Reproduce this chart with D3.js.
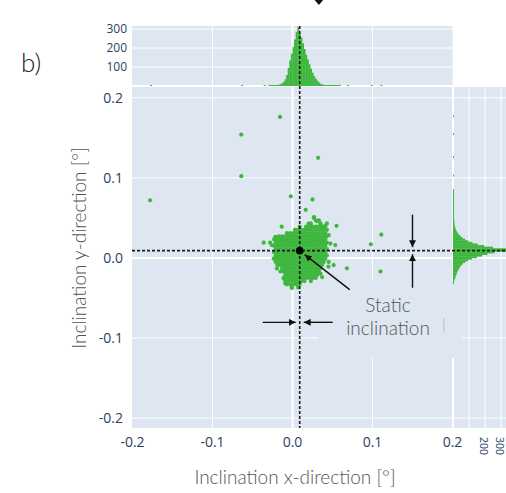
<!DOCTYPE html>
<html>
<head>
<meta charset="utf-8">
<script src="https://cdn.jsdelivr.net/npm/d3@7"></script>
<style>
  body { margin: 0; background: #fff; }
  svg { display: block; }
</style>
</head>
<body>
<div id="chart"></div>
<script>
// values
const xTicks = [-0.2, -0.1, 0, 0.1, 0.2];
const yTicks = [-0.2, -0.1, 0, 0.1, 0.2];
const tickLabels = ['-0.2', '-0.1', '0.0', '0.1', '0.2'];
const countTicks = [100, 200, 300];
const rightCountLabels = [200, 300];

const staticInclination = [0.009, 0.009];

// marginal histograms, bin width 0.002
const binWidth = 0.002;
const xBinStart = -0.03;
const xCounts = [
  1, 2, 2, 3, 4, 5, 7, 10, 14, 22, 35, 58, 95, 135, 170,
  205, 245, 285, 310, 275, 255, 225, 195, 165, 140, 115, 92, 70, 52, 38,
  28, 18, 12, 8, 6, 4, 3, 3, 2, 2, 1, 1, 1, 2, 1,
];
const yBinStart = -0.032;
const yCounts = [
  2, 5, 10, 14, 17, 20, 24, 28, 33, 38, 44, 52, 62, 76, 94, 118,
  150, 182, 215, 260, 340, 345, 250, 195, 155, 122, 96, 76, 60, 48,
  38, 30, 24, 19, 15, 12, 10, 9, 8, 7, 6, 5, 5, 4, 4, 4, 3, 3, 3, 3,
  2, 2, 2, 2, 2, 2, 1, 1, 1,
];
const xStrayBins = [[-0.178, 1], [-0.064, 2], [-0.036, 1], [-0.028, 1], [0.068, 1], [0.098, 1], [0.11, 2]];
const yStrayBins = [[0.176, 1], [0.154, 1], [0.125, 1], [0.102, 1], [0.077, 1], [0.073, 2], [0.06, 1]];

// dense cluster, read as an occupancy map (step 0.004, from x=-0.035 / y=0.055)
const clusterOrigin = [-0.035, 0.055];
const clusterStep = 0.004;
const clusterRows = [
  '..........................',
  '...............#..........',
  '................##........',
  '..............#..#.#......',
  '...........#.#######......',
  '.........###########......',
  '.......#############......',
  '....################......',
  '...#################......',
  '...#################......',
  '...#################......',
  '...#################......',
  '...#################......',
  '...#################......',
  '...#################......',
  '...################.......',
  '....###############.......',
  '.....#############........',
  '.....#############........',
  '......###########.........',
  '......###########.........',
  '......#######.#...........',
  '.......#####..............',
  '........#.#...............',
];

const strayPoints = [
  [-0.0156, 0.176], [-0.064, 0.154], [-0.064, 0.102], [-0.178, 0.072],
  [0.032, 0.125], [-0.002, 0.077], [0.025, 0.073], [0.0165, 0.06],
  [-0.0135, 0.039], [0.055, 0.04], [0.111, 0.029], [0.098, 0.017],
  [-0.036, 0.019], [-0.028, 0.019], [0.068, -0.013], [0.11, -0.017],
  [0.0265, 0.05], [0.0535, 0.016], [0.0515, -0.009], [0.045, -0.011],
  [0.037, -0.024], [-0.0006, -0.0375], [-0.009, -0.032],
  [0.0202, 0.0429], [0.0306, 0.0459], [0.0348, 0.0409], [0.041, 0.04],
  [0.0452, 0.0284], [0.0473, 0.0179], [0.0452, -0.005], [-0.0215, 0.0262],
  [-0.0256, 0.0159], [-0.0235, -0.0008], [-0.0194, -0.0133], [-0.011, -0.0258],
  [0.0035, -0.032], [0.0285, -0.0238], [0.0348, -0.0196],
];

// layout
const width = 506;
const height = 493;
const bg = '#dde6f1';
const green = '#3fb73f';
const tickColor = '#2a3f5f';
const titleColor = '#555';
const titleFont = "Lato, 'Open Sans', sans-serif";
const tickFont = "'Open Sans', sans-serif";

const main = { left: 132, right: 452.5, top: 87, bottom: 428 };
const topArea = { top: 26, bottom: 86 };
const side = { left: 453, right: 506 };

const x = d3.scaleLinear().domain([-0.2, 0.2]).range([132.5, 452.5]);
const y = d3.scaleLinear().domain([-0.2, 0.2]).range([418, 97.75]);
const yTop = d3.scaleLinear().domain([0, 300]).range([86, 29]);
const xSide = d3.scaleLinear().domain([0, 300]).range([453, 501]);

const svg = d3
  .select('#chart')
  .append('svg')
  .attr('width', width)
  .attr('height', height);

// backgrounds
svg.append('rect')
  .attr('x', main.left).attr('y', topArea.top)
  .attr('width', main.right - main.left).attr('height', topArea.bottom - topArea.top)
  .attr('fill', bg);
svg.append('rect')
  .attr('x', main.left).attr('y', main.top)
  .attr('width', main.right - main.left).attr('height', main.bottom - main.top)
  .attr('fill', bg);
svg.append('rect')
  .attr('x', side.left).attr('y', main.top)
  .attr('width', side.right - side.left).attr('height', main.bottom - main.top)
  .attr('fill', bg);

const grid = svg.append('g').attr('stroke', '#fff');

// main grid
grid.append('g').selectAll('line')
  .data(xTicks.slice(1, 4))
  .join('line')
  .attr('x1', (d) => x(d)).attr('x2', (d) => x(d))
  .attr('y1', main.top).attr('y2', main.bottom)
  .attr('stroke-width', (d) => (d === 0 ? 2 : 1));
grid.append('g').selectAll('line')
  .data(yTicks)
  .join('line')
  .attr('x1', main.left).attr('x2', side.right)
  .attr('y1', (d) => y(d)).attr('y2', (d) => y(d))
  .attr('stroke-width', (d) => (d === 0 ? 2 : 1));

// top histogram grid
grid.append('g').selectAll('line')
  .data(xTicks.slice(1, 4))
  .join('line')
  .attr('x1', (d) => x(d)).attr('x2', (d) => x(d))
  .attr('y1', topArea.top).attr('y2', topArea.bottom)
  .attr('stroke-width', (d) => (d === 0 ? 2 : 1));
grid.append('g').selectAll('line')
  .data(countTicks)
  .join('line')
  .attr('x1', main.left).attr('x2', main.right)
  .attr('y1', (d) => yTop(d)).attr('y2', (d) => yTop(d));
grid.append('line')
  .attr('x1', main.left).attr('x2', main.right)
  .attr('y1', yTop(0)).attr('y2', yTop(0))
  .attr('stroke-width', 2);

// side histogram grid
grid.append('g').selectAll('line')
  .data(countTicks)
  .join('line')
  .attr('x1', (d) => xSide(d)).attr('x2', (d) => xSide(d))
  .attr('y1', main.top).attr('y2', main.bottom);
grid.append('line')
  .attr('x1', xSide(0)).attr('x2', xSide(0))
  .attr('y1', main.top).attr('y2', main.bottom)
  .attr('stroke-width', 2);

// patch behind the annotation text
svg.append('rect')
  .attr('x', 318).attr('y', 281)
  .attr('width', 144).attr('height', 77)
  .attr('fill', bg);
svg.append('rect')
  .attr('x', 443).attr('y', 318)
  .attr('width', 1.5).attr('height', 14)
  .attr('fill', '#c8ccd2');

// top histogram
const xBins = xCounts.map((c, i) => [xBinStart + i * binWidth, c]).concat(xStrayBins);
svg.append('g')
  .selectAll('rect')
  .data(xBins)
  .join('rect')
  .attr('x', (d) => x(d[0]))
  .attr('width', x(binWidth) - x(0) + 0.3)
  .attr('y', (d) => Math.min(yTop(d[1]), yTop(0) - 1))
  .attr('height', (d) => Math.max(yTop(0) - yTop(d[1]), 1))
  .attr('fill', green);

// side histogram
const yBins = yCounts.map((c, i) => [yBinStart + i * binWidth, c]).concat(yStrayBins);
svg.append('g')
  .selectAll('rect')
  .data(yBins)
  .join('rect')
  .attr('x', xSide(0))
  .attr('y', (d) => y(d[0] + binWidth))
  .attr('height', y(0) - y(binWidth) + 0.3)
  .attr('width', (d) => Math.min(Math.max(xSide(d[1]) - xSide(0), 1), side.right - side.left))
  .attr('fill', green);

// scatter (odd rows of the map sit half a step over)
const clusterPoints = [];
clusterRows.forEach((row, j) => {
  [...row].forEach((c, i) => {
    if (c === '#') {
      clusterPoints.push([
        clusterOrigin[0] + (i + (j % 2) * 0.5) * clusterStep,
        clusterOrigin[1] - j * clusterStep,
      ]);
    }
  });
});

svg.append('g')
  .selectAll('circle')
  .data(clusterPoints.concat(strayPoints))
  .join('circle')
  .attr('cx', (d) => x(d[0]))
  .attr('cy', (d) => y(d[1]))
  .attr('r', 2.1)
  .attr('fill', green);

// static inclination guides
const [sx, sy] = staticInclination;
svg.append('line')
  .attr('x1', x(sx)).attr('x2', x(sx))
  .attr('y1', topArea.top).attr('y2', main.bottom)
  .attr('stroke', '#1a1a1a')
  .attr('stroke-width', 1.6)
  .attr('stroke-dasharray', '3,2');
svg.append('line')
  .attr('x1', main.left).attr('x2', side.right)
  .attr('y1', y(sy)).attr('y2', y(sy))
  .attr('stroke', '#1a1a1a')
  .attr('stroke-width', 1.6)
  .attr('stroke-dasharray', '3,2');

svg.append('circle')
  .attr('cx', x(sx)).attr('cy', y(sy))
  .attr('r', 3.8)
  .attr('fill', '#000');

// arrows
svg.append('defs')
  .append('marker')
  .attr('id', 'head')
  .attr('viewBox', '0 0 10 10')
  .attr('refX', 10).attr('refY', 5)
  .attr('markerWidth', 7).attr('markerHeight', 7)
  .attr('markerUnits', 'userSpaceOnUse')
  .attr('orient', 'auto')
  .append('path')
  .attr('d', 'M0,0L10,5L0,10Z')
  .attr('fill', '#111');

const arrows = [
  [x(sx) + 50, y(sy) + 39, x(sx) + 5, y(sy) + 4],
  [x(sx) - 37, y(-0.0805), x(sx) - 4, y(-0.0805)],
  [x(sx) + 33, y(-0.0805), x(sx) + 4, y(-0.0805)],
  [x(0.15), y(sy) - 36, x(0.15), y(sy) - 3.5],
  [x(0.15), y(sy) + 37, x(0.15), y(sy) + 3.5],
];
svg.append('g')
  .selectAll('line')
  .data(arrows)
  .join('line')
  .attr('x1', (d) => d[0]).attr('y1', (d) => d[1])
  .attr('x2', (d) => d[2]).attr('y2', (d) => d[3])
  .attr('stroke', '#111')
  .attr('stroke-width', 1.4)
  .attr('marker-end', 'url(#head)');

// arrow tip from the panel above
svg.append('path')
  .attr('d', `M${x(0.033) - 6},-2L${x(0.033) + 6},-2L${x(0.033)},5Z`)
  .attr('fill', '#111');

// tick labels
const tickStyle = (sel) =>
  sel.attr('fill', tickColor).style('font-family', tickFont);

svg.append('g')
  .selectAll('text')
  .data(xTicks)
  .join('text')
  .attr('x', (d) => x(d))
  .attr('y', 447)
  .attr('text-anchor', 'middle')
  .style('font-size', '14px')
  .text((d, i) => tickLabels[i])
  .call(tickStyle);

svg.append('g')
  .selectAll('text')
  .data(yTicks)
  .join('text')
  .attr('x', 123)
  .attr('y', (d) => y(d))
  .attr('dy', '0.35em')
  .attr('text-anchor', 'end')
  .style('font-size', '14px')
  .text((d, i) => tickLabels[i])
  .call(tickStyle);

svg.append('g')
  .selectAll('text')
  .data(countTicks)
  .join('text')
  .attr('x', 127)
  .attr('y', (d) => yTop(d))
  .attr('dy', '0.35em')
  .attr('text-anchor', 'end')
  .style('font-size', '12px')
  .text((d) => d)
  .call(tickStyle);

svg.append('g')
  .selectAll('text')
  .data(rightCountLabels)
  .join('text')
  .attr('transform', (d) => `translate(${xSide(d) - 1},${437}) rotate(90)`)
  .attr('dy', '0.35em')
  .style('font-size', '10.5px')
  .text((d) => d)
  .call(tickStyle);

// titles and labels
svg.append('text')
  .attr('x', 295)
  .attr('y', 484)
  .attr('text-anchor', 'middle')
  .attr('fill', titleColor)
  .style('font-family', titleFont)
  .style('font-size', '19px')
  .style('font-weight', 300)
  .text('Inclination x-direction [°]');

svg.append('text')
  .attr('transform', 'translate(86,248) rotate(-90)')
  .attr('text-anchor', 'middle')
  .attr('fill', titleColor)
  .style('font-family', titleFont)
  .style('font-size', '19px')
  .style('font-weight', 300)
  .text('Inclination y-direction [°]');

const note = svg.append('text')
  .attr('text-anchor', 'middle')
  .attr('fill', titleColor)
  .style('font-family', titleFont)
  .style('font-size', '19px')
  .style('font-weight', 300);
note.append('tspan').attr('x', 388).attr('y', 312).text('Static');
note.append('tspan').attr('x', 388).attr('y', 335).text('inclination');

svg.append('text')
  .attr('x', 21)
  .attr('y', 72)
  .attr('fill', '#222')
  .style('font-family', titleFont)
  .style('font-size', '26px')
  .style('font-weight', 300)
  .text('b)');
</script>
</body>
</html>
